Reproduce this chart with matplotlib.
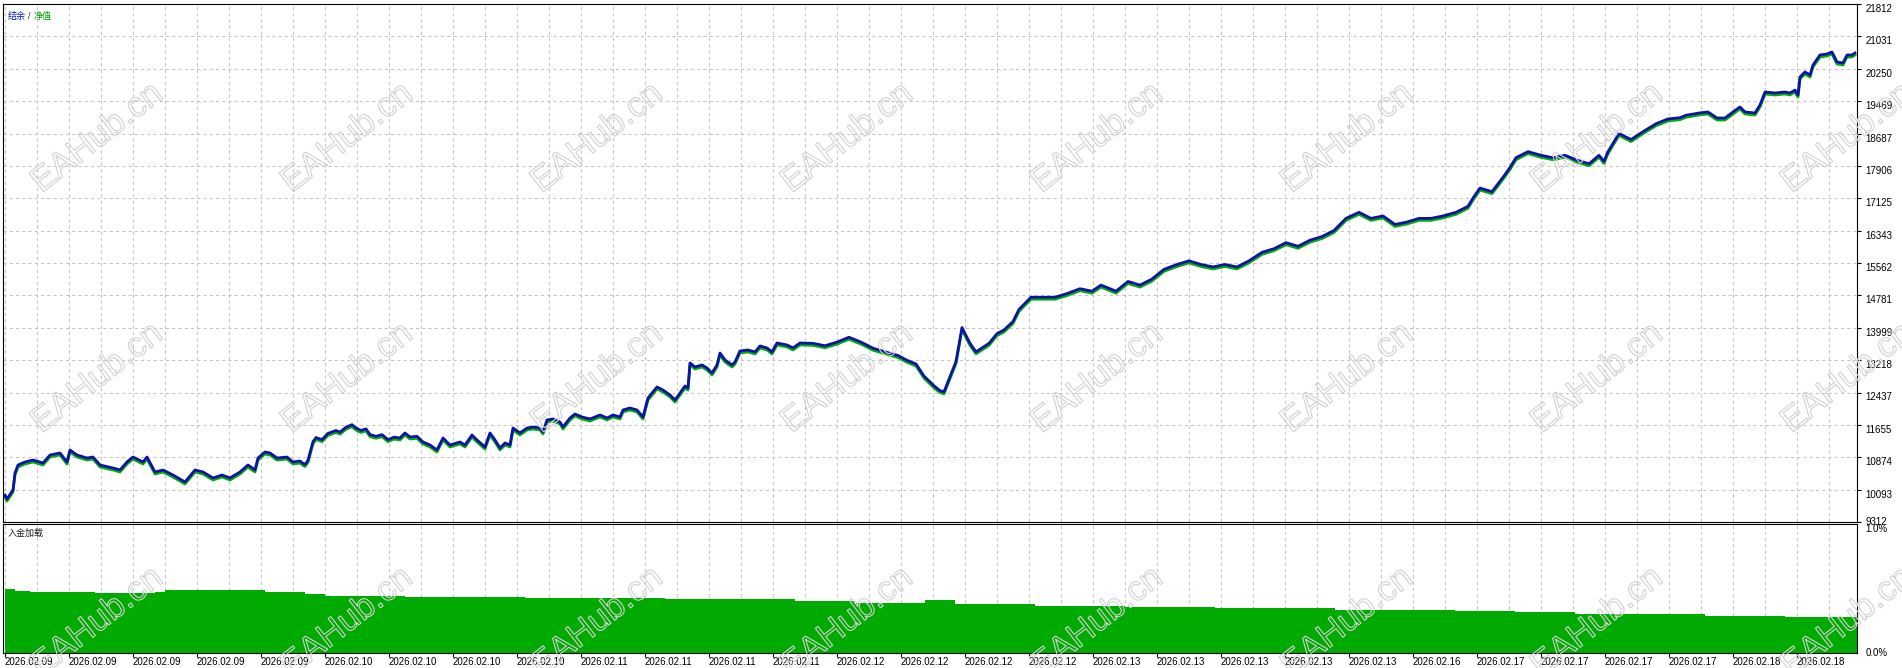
import numpy as np
import matplotlib
matplotlib.use("Agg")
import matplotlib.pyplot as plt
import matplotlib.transforms as mtransforms
import matplotlib.patheffects as pe

plt.rcParams['font.family'] = ['Liberation Sans', 'Noto Sans CJK SC', 'DejaVu Sans']

# equity curve (x = bar index along the test, y = account value)
eq_bar = [0, 2, 8, 10, 13, 20, 28, 38, 45, 55, 62, 65, 72, 82, 88, 95, 108, 115, 122, 128,
          138, 142, 150, 158, 168, 180, 190, 198, 208, 217, 225, 235, 243, 250, 253, 260,
          265, 272, 282, 288, 295, 298, 300, 303, 308, 311, 317, 323, 331, 335, 341, 347,
          351, 356, 361, 365, 371, 377, 383, 389, 395, 400, 405, 412, 418, 425, 432, 438,
          445, 455, 460, 467, 472, 480, 485, 490, 495, 500, 505, 508, 515, 522, 528, 535,
          538, 542, 548, 555, 558, 565, 570, 577, 585, 595, 602, 608, 615, 618, 625, 632,
          638, 643, 652, 658, 665, 670, 675, 680, 683, 685, 690, 697, 702, 707, 712, 715,
          720, 727, 730, 735, 743, 750, 755, 762, 767, 772, 782, 788, 795, 808, 820, 832,
          844, 856, 868, 880, 893, 902, 911, 919, 929, 935, 939, 951, 957, 965, 971, 984,
          992, 999, 1008, 1014, 1026, 1038, 1050, 1062, 1075, 1087, 1096, 1111, 1123, 1135,
          1147, 1159, 1172, 1184, 1196, 1208, 1220, 1232, 1244, 1257, 1269, 1281, 1293, 1305,
          1317, 1329, 1341, 1354, 1366, 1378, 1390, 1402, 1414, 1426, 1438, 1451, 1463, 1469,
          1475, 1487, 1499, 1505, 1511, 1523, 1536, 1548, 1560, 1572, 1584, 1594, 1599, 1603,
          1614, 1626, 1639, 1651, 1663, 1675, 1681, 1695, 1703, 1712, 1720, 1728, 1735, 1740,
          1750, 1755, 1760, 1770, 1780, 1785, 1790, 1793, 1795, 1800, 1805, 1808, 1815, 1822,
          1827, 1832, 1838, 1842, 1847, 1850]
eq_val = [9963, 9867, 10084, 10494, 10688, 10760, 10808, 10736, 10929, 10977, 10760, 11050,
          10929, 10856, 10880, 10688, 10615, 10567, 10760, 10880, 10760, 10880, 10519, 10567,
          10446, 10277, 10567, 10519, 10374, 10446, 10374, 10519, 10688, 10567, 10856, 11001,
          10977, 10856, 10880, 10760, 10784, 10727, 10700, 10800, 11250, 11350, 11300, 11450,
          11520, 11480, 11600, 11660, 11580, 11520, 11560, 11420, 11380, 11420, 11300, 11360,
          11339, 11460, 11363, 11380, 11243, 11170, 11050, 11339, 11170, 11243, 11170, 11412,
          11291, 11122, 11460, 11291, 11098, 11219, 11170, 11580, 11460, 11580, 11605, 11580,
          11484, 11774, 11798, 11725, 11605, 11822, 11918, 11846, 11798, 11894, 11822, 11894,
          11846, 12015, 12063, 12015, 11846, 12304, 12570, 12497, 12377, 12256, 12425, 12594,
          12546, 13149, 13053, 13101, 13029, 12908, 13101, 13390, 13222, 13101, 13174, 13439,
          13463, 13415, 13560, 13512, 13415, 13632, 13584, 13512, 13632, 13623, 13565, 13653,
          13770, 13653, 13506, 13418, 13330, 13214, 13126, 12833, 12599, 12482, 12453, 13184,
          14004, 13623, 13418, 13623, 13858, 13946, 14150, 14443, 14736, 14736, 14736, 14824,
          14941, 14882, 15029, 14882, 15116, 15029, 15175, 15409, 15526, 15614, 15526, 15467,
          15526, 15467, 15614, 15819, 15907, 16053, 15965, 16112, 16200, 16346, 16639, 16785,
          16639, 16697, 16492, 16551, 16639, 16639, 16697, 16785, 16931, 17166, 17370, 17283,
          17663, 17868, 18102, 18249, 18161, 18102, 18161, 18044, 17956, 18161, 18015, 18249,
          18688, 18541, 18746, 18922, 19039, 19068, 19127, 19185, 19206, 19061, 19061, 19206,
          19327, 19206, 19182, 19375, 19688, 19664, 19688, 19664, 19736, 19616, 20051, 20172,
          20099, 20340, 20582, 20606, 20654, 20413, 20388, 20582, 20582, 20630]

# deposit load, %
load_bar = [0, 10, 25, 90, 150, 160, 230, 260, 300, 320, 400, 520, 640, 660, 790, 850, 920,
            950, 1030, 1120, 1210, 1330, 1450, 1510, 1570, 1700, 1780, 1852]
load_val = [0.50, 0.48, 0.47, 0.465, 0.47, 0.485, 0.485, 0.47, 0.455, 0.44, 0.435, 0.43,
            0.425, 0.415, 0.405, 0.39, 0.41, 0.38, 0.365, 0.36, 0.35, 0.335, 0.325, 0.315,
            0.30, 0.29, 0.28, 0.27]

y_ticks = [9312, 10093, 10874, 11655, 12437, 13218, 13999, 14781, 15562, 16343, 17125,
           17906, 18687, 19469, 20250, 21031, 21812]
date_labels = (['2026.02.09'] * 5 + ['2026.02.10'] * 4 + ['2026.02.11'] * 4 +
               ['2026.02.12'] * 4 + ['2026.02.13'] * 5 + ['2026.02.16'] +
               ['2026.02.17'] * 4 + ['2026.02.18'] * 2)
label_step = 64
x_max = 1852

W, H = 1902, 668
fig = plt.figure(figsize=(W / 100, H / 100), dpi=100)
fig.patch.set_facecolor('white')

def fr(x0, y0, x1, y1):
    return [x0 / W, 1 - y1 / H, (x1 - x0) / W, (y1 - y0) / H]

ax = fig.add_axes(fr(3, 4, 1857, 522))
ax2 = fig.add_axes(fr(3, 524, 1857, 653))

grid_kw = dict(color='#c4c4c4', linewidth=0.75, linestyle=(0, (3, 3)))
xgrid = np.arange(0, x_max, label_step // 2)

for a in (ax, ax2):
    a.set_xlim(-2, x_max)
    for s in a.spines.values():
        s.set_color('black')
        s.set_linewidth(0.8)
    for gx in xgrid:
        a.axvline(gx, zorder=0, **grid_kw)

# top panel
ax.set_ylim(y_ticks[0], y_ticks[-1])
for gy in y_ticks[1:-1]:
    ax.axhline(gy, zorder=0, **grid_kw)
green_tr = mtransforms.offset_copy(ax.transData, fig=fig, x=0, y=-2, units='dots')
ax.plot(eq_bar, eq_val, color='#00b000', linewidth=2.0, transform=green_tr, zorder=2)
ax.plot(eq_bar, eq_val, color='#0a12a8', linewidth=2.0, zorder=3)
ax.set_xticks([])
ax.yaxis.tick_right()
ax.set_yticks(y_ticks)
ax.set_yticklabels([str(v) for v in y_ticks])
ax.tick_params(axis='y', length=3, width=0.8, pad=3, labelsize=7, colors='black')
for i, lab in enumerate(ax.get_yticklabels()):
    lab.set_va('center' if i == 0 else 'top')

ax.text(0.0025, 0.985, '结余', color='#1010c0', fontsize=6.5, transform=ax.transAxes,
        va='top', ha='left', family=['Noto Sans CJK SC', 'DejaVu Sans'])
ax.text(0.0135, 0.985, '/', color='#303030', fontsize=6.5, transform=ax.transAxes,
        va='top', ha='left')
ax.text(0.0165, 0.985, '净值', color='#00a000', fontsize=6.5, transform=ax.transAxes,
        va='top', ha='left', family=['Noto Sans CJK SC', 'DejaVu Sans'])

# bottom panel
ax2.set_ylim(0, 1.0)
ax2.fill_between(load_bar, load_val, 0, step='post', color='#00aa00', linewidth=0, zorder=2)
ax2.yaxis.tick_right()
ax2.set_yticks([0, 1.0])
ax2.set_yticklabels(['0.0%', '1.0%'])
ax2.tick_params(axis='y', length=0, pad=6, labelsize=7, colors='black')
labs = ax2.get_yticklabels()
labs[0].set_va('center')
labs[1].set_va('top')
ax2.set_xticks(np.arange(len(date_labels)) * label_step)
ax2.set_xticklabels(date_labels)
ax2.tick_params(axis='x', length=3, width=0.8, pad=0, labelsize=7, colors='black')
for lab in ax2.get_xticklabels():
    lab.set_ha('left')
ax2.text(0.0025, 0.965, '入金加载', color='#202020', fontsize=6.5, transform=ax2.transAxes,
         va='top', ha='left', family=['Noto Sans CJK SC', 'DejaVu Sans'])

# watermark (hollow outlined text)
wm_x = [97 + 250 * k for k in range(8)]
wm_y = [138, 378, 622]
for yy in wm_y:
    for xx in wm_x:
        fig.text(xx / W, 1 - yy / H, 'EAHub.cn', fontsize=25, rotation=38,
                 ha='center', va='center', color='none', family='Liberation Sans',
                 path_effects=[pe.Stroke(linewidth=0.8, foreground='#d2d2d2')],
                 zorder=10)

fig.savefig('out.png', dpi=100)
